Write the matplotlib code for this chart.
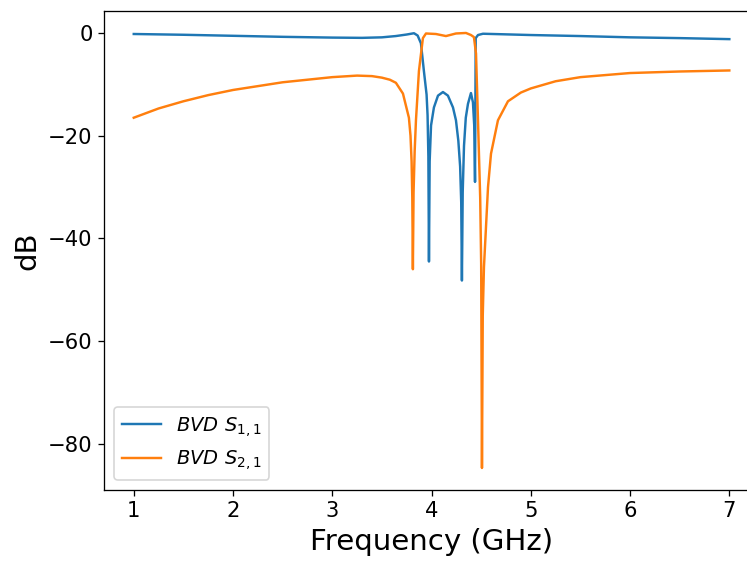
import matplotlib
matplotlib.use("Agg")
import matplotlib.pyplot as plt
import numpy as np

# === DATA ===
freq_s11 = [1.0, 1.5, 2.0, 2.5, 3.0, 3.3, 3.5, 3.64, 3.75, 3.823, 3.86,
            3.893, 3.923, 3.95, 3.96, 3.968, 3.974, 3.981, 3.995, 4.024, 4.065,
            4.115, 4.165, 4.216, 4.246, 4.27, 4.288, 4.299, 4.306, 4.314, 4.327,
            4.345, 4.367, 4.397, 4.417, 4.43, 4.438, 4.445, 4.468, 4.518, 5.0,
            5.5, 6.0, 6.5, 7.0]
s11_db = [-0.2, -0.35, -0.55, -0.75, -0.9, -0.95, -0.85, -0.6, -0.3, -0.05,
          -0.5, -2, -7.4, -12, -16, -24, -44.5, -25, -18, -14.5, -12.2, -11.5,
          -12.2, -14.5, -17, -21, -26, -33, -48.2, -31, -22, -16.5, -13.8,
          -11.7, -13.5, -18, -29, -1.0, -0.4, -0.15, -0.4, -0.6, -0.85, -1.0,
          -1.2]

freq_s21 = [1.0, 1.25, 1.5, 1.75, 2.0, 2.5, 3.0, 3.25, 3.4, 3.5, 3.58, 3.641,
            3.712, 3.772, 3.788, 3.799, 3.806, 3.812, 3.819, 3.83, 3.843, 3.873,
            3.913, 3.944, 4.044, 4.145, 4.246, 4.347, 4.397, 4.427, 4.448,
            4.468, 4.49, 4.50, 4.508, 4.516, 4.528, 4.569, 4.599, 4.669, 4.77,
            4.9, 5.0, 5.25, 5.5, 6.0, 6.5, 7.0]
s21_db = [-16.5, -14.7, -13.3, -12.1, -11.1, -9.6, -8.6, -8.3, -8.4, -8.7,
          -9.1, -9.7, -11.8, -16.5, -20, -25, -32, -46, -31, -23, -17, -7.4,
          -1.0, -0.1, -0.2, -0.6, -0.1, 0.0, -0.4, -0.8, -4, -17, -32, -45,
          -84.7, -55, -45.6, -30, -23.5, -17, -13.3, -11.6, -10.8, -9.4, -8.6,
          -7.8, -7.5, -7.3]

labels = [r"$BVD\ S_{1,1}$", r"$BVD\ S_{2,1}$"]

# === PLOT ===
fig = plt.figure(figsize=(747 / 117, 561 / 117), dpi=117)
# axes run past the right edge of the picture, as in the reference
ax = fig.add_axes([0.1392, 0.127, 0.877, 0.853])

ax.plot(freq_s11, s11_db, color="#1f77b4", lw=1.5, label=labels[0])
ax.plot(freq_s21, s21_db, color="#ff7f0e", lw=1.5, label=labels[1])

ax.set_xlabel("Frequency (GHz)", fontsize=18)
ax.set_ylabel("dB", fontsize=18)
ax.tick_params(labelsize=13)
ax.set_xticks([1, 2, 3, 4, 5, 6, 7])
ax.set_yticks([0, -20, -40, -60, -80])
ax.legend(loc="lower left", fontsize=12)

fig.savefig("out.png", dpi=117)
